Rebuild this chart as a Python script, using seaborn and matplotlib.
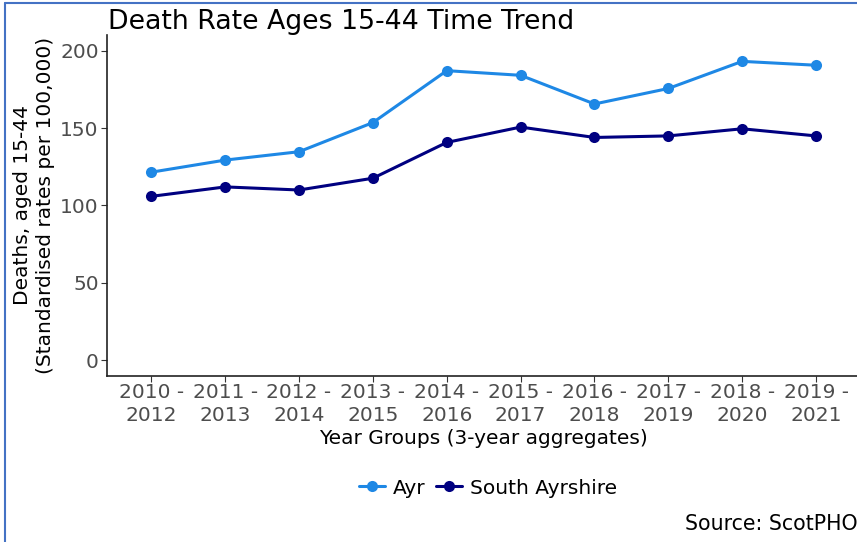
import pandas as pd
import matplotlib
matplotlib.use("Agg")
import matplotlib.pyplot as plt
import seaborn as sns
from matplotlib.lines import Line2D


# =========================================
# DATA
# =========================================

periods = ["2010 - 2012", "2011 - 2013", "2012 - 2014", "2013 - 2015", "2014 - 2016",
           "2015 - 2017", "2016 - 2018", "2017 - 2019", "2018 - 2020", "2019 - 2021"]
tick_labels = [p.replace(" - ", " -\n") for p in periods]

ayr = [121.5, 129.3, 134.7, 153.5, 187.0, 184.0, 165.5, 175.5, 193.0, 190.5]
south_ayrshire = [105.9, 112.0, 110.0, 117.6, 140.7, 150.6, 143.9, 144.9, 149.5, 144.9]

areas = ["Ayr", "South Ayrshire"]
colours = {"Ayr": "#1E88E5", "South Ayrshire": "#000080"}

df = pd.DataFrame({
    "period": periods * 2,
    "rate": ayr + south_ayrshire,
    "area": ["Ayr"] * len(periods) + ["South Ayrshire"] * len(periods),
})
df["pos"] = df["period"].map({p: i for i, p in enumerate(periods)})


# =========================================
# CHART
# =========================================

sns.set_style("white")
plt.rcParams["font.family"] = ["DejaVu Sans"]
plt.rcParams["text.color"] = "black"
plt.rcParams["axes.labelcolor"] = "black"

fig = plt.figure(figsize=(8.57, 5.42), dpi=100)
ax = fig.add_axes([0.1249, 0.3063, 0.879, 0.6291])

sns.lineplot(
    data=df, x="pos", y="rate", hue="area", hue_order=areas,
    palette=colours, marker="o", markersize=8, markeredgewidth=0,
    linewidth=2.2, legend=False, ax=ax
)

ax.set_xlim(-0.6, 9.6)
ax.set_ylim(-10, 210)
ax.set_xticks(range(len(periods)))
ax.set_xticklabels(tick_labels, fontsize=14.5, color="#4D4D4D", linespacing=1.25)
ax.set_yticks([0, 50, 100, 150, 200])
ax.tick_params(axis="y", labelsize=14.5, labelcolor="#4D4D4D", length=4,
               color="#333333", left=True, pad=2)
ax.tick_params(axis="x", length=4, color="#333333", bottom=True, pad=1)

for side in ["top", "right"]:
    ax.spines[side].set_visible(False)
for side in ["left", "bottom"]:
    ax.spines[side].set_color("#222222")
    ax.spines[side].set_linewidth(1.2)

ax.set_xlabel("Year Groups (3-year aggregates)", fontsize=14.5, labelpad=3)
ax.set_ylabel("Deaths, aged 15-44\n(Standardised rates per 100,000)",
              fontsize=14.5, labelpad=4, linespacing=1.25)

fig.text(108 / 857, 1 - 22 / 542, "Death Rate Ages 15-44 Time Trend",
         fontsize=19.3, va="center", ha="left")

handles = [Line2D([], [], color=colours[a], marker="o", markersize=8,
                  markeredgewidth=0, linewidth=2.2) for a in areas]
fig.legend(handles, areas, loc="center", bbox_to_anchor=(488 / 857, 1 - 488 / 542),
           ncol=2, frameon=False, fontsize=14.5, handlelength=1.3,
           handletextpad=0.4, columnspacing=0.5)

fig.text(858 / 857, 1 - 524 / 542, "Source: ScotPHO", fontsize=14.8,
         ha="right", va="center")

# blue frame on the left and top edges
fig.add_artist(Line2D([5 / 857, 5 / 857], [0, 1 - 3 / 542], transform=fig.transFigure,
                      color="#4472C4", linewidth=1.5))
fig.add_artist(Line2D([5 / 857, 1], [1 - 3 / 542, 1 - 3 / 542], transform=fig.transFigure,
                      color="#4472C4", linewidth=1.5))

plt.savefig("out.png", dpi=100)
